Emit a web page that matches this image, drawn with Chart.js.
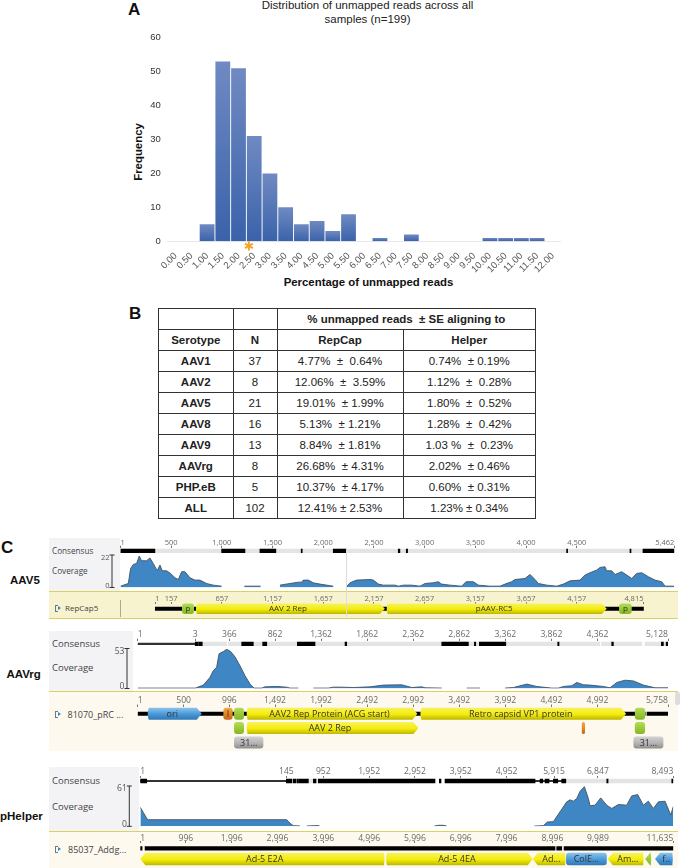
<!DOCTYPE html>
<html>
<head>
<meta charset="utf-8">
<title>Unmapped reads</title>
<script src="https://cdn.jsdelivr.net/npm/chart.js@4/dist/chart.umd.min.js"></script>
<style>
  html, body { margin: 0; padding: 0; background: #fff; }
  body { position: relative; width: 680px; height: 868px; overflow: hidden; font-family: "Liberation Sans", Arial, sans-serif; filter: blur(0.3px); }
  canvas { position: absolute; }
  .box { position: absolute; }
  .txt { position: absolute; transform: translateY(-50%); white-space: pre; line-height: 1; }
  .panel { font-weight: bold; font-size: 17px; color: #111; }
  .name { font-weight: bold; font-size: 11.5px; color: #111; }
  .axis { font-weight: bold; font-size: 11.4px; color: #111; }
  .head { font-size: 11.5px; color: #222; }
  .track { font-family: "Open Sans", sans-serif; color: #444; }
  table { position: absolute; left: 158px; top: 308px; width: 377px; height: 210px; border-collapse: collapse; table-layout: fixed; font-size: 11.5px; color: #222; }
  td { border: 1px solid #333; text-align: center; padding: 0; height: 20px; white-space: pre; }
  td.b { font-weight: bold; }
</style>
</head>
<body>
<script>
// --- DATA: panel A histogram ---
const binLabels = ['0.00','0.50','1.00','1.50','2.00','2.50','3.00','3.50','4.00','4.50','5.00','5.50','6.00','6.50','7.00','7.50','8.00','8.50','9.00','9.50','10.00','10.50','11.00','11.50','12.00'];
const binCounts = [0,0,5,53,51,31,20,10,5,6,3,8,0,1,0,2,0,0,0,0,1,1,1,1,0];
const medianBinIndex = 4.66;
const freqTicks = [0,10,20,30,40,50,60];

// --- DATA: panel B table ---
const serotypes = ['AAV1','AAV2','AAV5','AAV8','AAV9','AAVrg','PHP.eB','ALL'];
const sampleCounts = ['37','8','21','16','13','8','5','102'];
const repCapText = ['4.77%  ±  0.64%','12.06%  ±  3.59%','19.01%  ± 1.99%','5.13%  ± 1.21%','8.84%  ± 1.81%','26.68%  ± 4.31%','10.37%  ± 4.17%','12.41% ± 2.53%'];
const helperText = ['0.74%  ± 0.19%','1.12%  ±  0.28%','1.80%  ±  0.52%','1.28%  ±  0.42%','1.03 %  ±  0.23%','2.02%  ± 0.46%','0.60%  ± 0.31%','1.23% ± 0.34%'];

// --- DATA: panel C, AAV5 ---
const aav5TickPos = [1,500,1000,1500,2000,2500,3000,3500,4000,4500,5462];
const aav5TickLabels = ['1','500','1,000','1,500','2,000','2,500','3,000','3,500','4,000','4,500','5,462'];
const aav5Grey = [[1,2230],[2236,5462]];
const aav5Black = [[1,340],[998,1228],[1376,1533],[1783,1793],[2099,2230],[2740,2756],[2819,2832],[4400,4410],[5025,5035],[5153,5462]];
const aav5CovPos = [1,78,101,127,160,186,209,258,291,324,350,367,390,413,456,495,538,571,604,636,686,735,784,850,916,998,1000,1222,1383,1400,1573,1672,1754,1787,1803,1853,1902,1968,2099,2150,2231,2264,2330,2461,2494,2544,2593,2708,2741,2790,2872,2954,3004,3086,3135,3168,3250,3365,3408,3480,3530,3645,3743,3793,3858,3891,3990,4039,4089,4121,4204,4302,4368,4434,4532,4582,4631,4697,4730,4779,4795,4845,4878,4943,4993,5042,5091,5141,5206,5272,5338,5371,5462];
const aav5CovVal = [0.9,2.7,12.9,15.6,16.3,21.3,18.1,18.1,20,16.3,12.9,11.8,15.2,11.3,11.3,9.5,6.6,5.4,10.7,10.7,6.6,5,5,2.7,1.6,0.9,null,0.9,0.9,null,1.6,2.7,3.6,3.6,5,5,3.2,2.3,0.9,null,0.5,3.2,5,5.4,5,2.3,1.6,1.6,0.9,1.6,1.6,0.9,2.7,3.2,3.9,2.3,1.6,0.9,3.9,3.9,1.6,0.9,0.9,2.3,3.9,5.4,6.1,8.8,5.4,2.7,1.6,0.9,2.3,4.5,5,8.4,10,11.8,13.6,14,11.3,11.3,8.8,10.7,8.4,6.1,9.5,10,7.3,5,3.9,0.9,0.9];
const aav5AnnotTickPos = [1,157,657,1157,1657,2157,2657,3157,3657,4157,4815];
const aav5AnnotTickLabels = ['1','157','657','1,157','1,657','2,157','2,657','3,157','3,657','4,157','4,815'];
const aav5Backbone = [[1,4815]];
const aav5Features = [
  [264,383,0,'promoter','p',0],
  [392,2265,0,'cds','AAV 2 Rep',1],
  [2273,4453,0,'cds','pAAV-RC5',1],
  [4574,4699,0,'promoter','p',0]
];

// --- DATA: panel C, AAVrg ---
const rgTickPos = [1,626,996,1492,1992,2492,2992,3492,3992,4492,4992,5758];
const rgTickLabels = ['1','3','366','862','1,362','1,862','2,362','2,862','3,362','3,862','4,362','5,128'];
const rgGrey = [[626,967],[985,5017],[5036,5473],[5509,5758]];
const rgThin = [[1,626]];
const rgBlack = [[626,660],[668,702],[1130,1256],[1358,1402],[1734,1926],[2252,2270],[3302,3591],[3656,3671],[3710,3997],[4561,4575],[5147,5165],[5686,5708],[5738,5758]];
const rgCovPos = [1,627,714,786,822,858,884,931,967,1010,1057,1112,1166,1220,1264,1347,1383,1510,1618,1654,1745,1800,1908,2071,2125,2198,2343,2524,2668,2867,2976,3085,3121,3302,3400,3573,3718,3800,3989,4080,4225,4333,4496,4569,4623,4713,4768,4840,4912,5057,5129,5202,5292,5383,5491,5618,5758];
const rgCovVal = [0.5,0.5,4.5,14.8,23.8,28,46,49,52,49,42,30,17,6,0.5,0.5,2.2,2.7,1.8,0.5,0.5,null,0.5,0.5,1.8,1.8,1.3,2.2,4.5,4.9,1.3,2.2,0.9,0.5,null,0.5,0.5,null,0.5,1.3,5.8,2.7,0.5,0.5,2.7,3.6,8,4.9,4.5,2.7,0.9,8,11,10,4.5,0.9,0.9];
const rgAnnotTickPos = [1,500,996,1492,1992,2492,2992,3492,3992,4492,4992,5758];
const rgAnnotTickLabels = ['1','500','996','1,492','1,992','2,492','2,992','3,492','3,992','4,492','4,992','5,758'];
const rgBackbone = [[1,5510],[5530,5758]];
const rgFeatures = [
  [99,696,0,'ori','ori',1],
  [931,1032,0,'orange','I',0],
  [1047,1155,0,'promoter','',0],
  [1173,3037,0,'cds','AAV2 Rep Protein (ACG start)',1],
  [3059,5303,0,'cds','Retro capsid VP1 protein',1],
  [5398,5509,0,'promoter','',0],
  [1047,1155,1,'promoter','',0],
  [1173,3048,1,'cds','AAV 2 Rep',1],
  [4822,4857,1,'orange','',0],
  [5398,5509,1,'promoter','',0],
  [1047,1365,2,'grey','31...',0],
  [5382,5708,2,'grey','31...',0]
];

// --- DATA: panel C, pHelper ---
const helperTickPos = [1,3190,3996,4996,5996,6996,7996,9033,9989,11635];
const helperTickLabels = ['1','145','952','1,952','2,952','3,952','4,952','5,915','6,847','8,493'];
const helperGrey = [[3669,3887],[9288,11635]];
const helperThin = [[1,3188],[8617,9288]];
const helperBlack = [[1,141],[3188,3306],[3334,3400],[3421,3454],[3466,3669],[3778,3837],[3887,6434],[6528,6565],[6652,8617],[8727,8786],[8836,8923],[9017,9113],[9200,9288],[10183,10211],[11602,11635]];
const helperCovPos = [1,67,140,176,3196,3269,3342,3487,3550,3633,3815,3909,4000,6419,6507,6616,6689,7000,8602,8799,8886,9017,9163,9308,9381,9454,9527,9600,9694,9781,9818,9927,10051,10182,10291,10436,10618,10727,10858,10982,11091,11200,11309,11455,11579,11635];
const helperCovVal = [28.7,21,12,10,10,4.5,1,0.5,null,0.5,1,1,null,0.3,1.5,1.5,0.3,null,0.3,1,6.5,7,22,37,40,38,42,53,60,42,31,32,43,32,27,33,32,46,48,32,38,27,37,38,17,30];
const helperAnnotTickPos = [1,996,1996,2996,3996,4996,5996,6996,7996,8996,9989,11635];
const helperAnnotTickLabels = ['1','996','1,996','2,996','3,996','4,996','5,996','6,996','7,996','8,996','9,989','11,635'];
const helperBackbone = [[1,40],[105,9054],[9090,9200],[9250,11635]];
const helperFeatures = [
  [1,5343,1,'cds','Ad-5 E2A',-1],
  [5343,8567,1,'cds','Ad-5 4EA',1],
  [8567,9294,1,'cds','Ad...',-1],
  [9294,10183,1,'ori','ColE...',0],
  [10205,10997,1,'cds','Am...',-1],
  [11020,11165,1,'promoter','',-1],
  [11237,11636,1,'ori','f..',-1]
];

const TRACK_FONT = '"Open Sans", sans-serif';
const featureColors = {
  cds: ['#f7f264', '#f4ec08', '#bcb602'],
  ori: ['#8cc4ee', '#4a97d6', '#2f78b8'],
  promoter: ['#b4dc5e', '#98c834', '#86b52a'],
  orange: ['#f2ab3e', '#e08424', '#c9641a'],
  grey: ['#d2d2d2', '#b4b4b4', '#8e8e8e']
};

// helpers for placing plain elements
function addBox(left, top, width, height, css) {
  const d = document.createElement('div');
  d.className = 'box';
  d.style.cssText = `left:${left}px;top:${top}px;width:${width}px;height:${height}px;${css || ''}`;
  document.body.appendChild(d);
  return d;
}
function addText(text, left, cy, cls, css) {
  const s = document.createElement('span');
  s.className = 'txt ' + (cls || '');
  s.textContent = text;
  s.style.cssText = `left:${left}px;top:${cy}px;${css || ''}`;
  document.body.appendChild(s);
  return s;
}
function addCanvas(left, top, width, height) {
  const c = document.createElement('canvas');
  c.width = width;
  c.height = height;
  c.style.left = left + 'px';
  c.style.top = top + 'px';
  document.body.appendChild(c);
  return c;
}

// --- 1. HISTOGRAM ---
addText('A', 128, 9, 'panel');
const CENTER = 'transform:translate(-50%,-50%);';
addText('Distribution of unmapped reads across all', 367.5, 5.5, 'head', CENTER);
addText('samples (n=199)', 367.5, 19.5, 'head', CENTER);
addText('Percentage of unmapped reads', 368.5, 283, 'axis', CENTER);
addText('Frequency', 139, 152, 'axis', 'transform:translate(-50%,-50%) rotate(-90deg);');

const medianStar = {
  id: 'medianStar',
  afterDraw(chart) {
    const { ctx, scales } = chart;
    const cx = scales.x.getPixelForValue(medianBinIndex);
    const cy = scales.y.getPixelForValue(0) + 4.6;
    ctx.save();
    ctx.strokeStyle = '#f5a623';
    ctx.lineWidth = 2;
    for (let k = 0; k < 3; k++) {
      const a = Math.PI / 2 + k * Math.PI / 3;
      ctx.beginPath();
      ctx.moveTo(cx - 4.6 * Math.cos(a), cy - 4.6 * Math.sin(a));
      ctx.lineTo(cx + 4.6 * Math.cos(a), cy + 4.6 * Math.sin(a));
      ctx.stroke();
    }
    ctx.restore();
  }
};
new Chart(addCanvas(130, -1, 440, 300), {
  type: 'bar',
  data: {
    labels: binLabels,
    datasets: [{
      data: binCounts,
      barPercentage: 0.94,
      categoryPercentage: 1,
      backgroundColor: (c) => {
        const s = c.chart.scales.y;
        if (!s || !c.parsed) return '#4a6fb2';
        const topPx = s.getPixelForValue(c.parsed.y);
        const basePx = s.getPixelForValue(0);
        if (!Number.isFinite(topPx) || !Number.isFinite(basePx)) return '#4a6fb2';
        const g = c.chart.ctx.createLinearGradient(0, topPx, 0, basePx);
        g.addColorStop(0, '#708ac2');
        g.addColorStop(1, '#3a62aa');
        return g;
      }
    }]
  },
  options: {
    responsive: false,
    animation: false,
    layout: { autoPadding: false, padding: { right: 7.2, top: 38.7 } },
    plugins: { legend: { display: false }, tooltip: { enabled: false } },
    scales: {
      x: {
        afterFit: (s) => { s.height = 57.7; },
        grid: { display: false, drawTicks: false },
        border: { color: '#e8e8e8' },
        ticks: { color: '#555', maxRotation: 45, minRotation: 45, autoSkip: false, padding: 9, font: { family: '"Liberation Sans"', size: 9.5 } }
      },
      y: {
        min: 0,
        max: 60,
        afterBuildTicks: (s) => { s.ticks = freqTicks.map((v) => ({ value: v })); },
        afterFit: (s) => { s.width = 37.8; },
        grid: { display: false, drawTicks: false },
        border: { display: false },
        ticks: { color: '#333', padding: 7, font: { family: '"Liberation Sans"', size: 9.5 } }
      }
    }
  },
  plugins: [medianStar]
});

// --- 2. TABLE ---
addText('B', 129, 313, 'panel');
const tbl = document.createElement('table');
function addRow(cells) {
  const tr = tbl.insertRow();
  cells.forEach(([text, cls, span]) => {
    const td = tr.insertCell();
    td.textContent = text;
    if (cls) td.className = cls;
    if (span) td.colSpan = span;
  });
  return tr;
}
const colGroup = document.createElement('colgroup');
[74.5, 44, 126, 132.5].forEach((w) => {
  const col = document.createElement('col');
  col.style.width = w + 'px';
  colGroup.appendChild(col);
});
tbl.appendChild(colGroup);
addRow([['', ''], ['', ''], ['% unmapped reads  ± SE aligning to', 'b', 2]]);
addRow([['Serotype', 'b'], ['N', 'b'], ['RepCap', 'b'], ['Helper', 'b']]);
serotypes.forEach((s, i) => addRow([[s, 'b'], [sampleCounts[i]], [repCapText[i]], [helperText[i]]]));
document.body.appendChild(tbl);

// --- 3. GENOME TRACKS ---
const CANVAS_LEFT = 90;
const CANVAS_WIDTH = 590;

function topAxis(min, max, tickPos, tickLabels, axisH, tickLen, fontSize, labelPad) {
  return {
    type: 'linear',
    position: 'top',
    min,
    max,
    afterBuildTicks: (s) => { s.ticks = tickPos.map((v) => ({ value: v })); },
    afterFit: (s) => { s.height = axisH; },
    grid: { drawOnChartArea: false, drawTicks: true, tickLength: tickLen, color: '#777', lineWidth: 1 },
    border: { display: false },
    ticks: {
      autoSkip: false, maxRotation: 0, minRotation: 0, align: 'inner', padding: labelPad, color: '#6a6a6a',
      font: { family: TRACK_FONT, size: fontSize },
      callback: (v, i) => tickLabels[i]
    }
  };
}
function floatBars(ranges, rowName, color, thickness) {
  return {
    data: ranges.map((r) => ({ x: r, y: rowName })),
    backgroundColor: color,
    barThickness: thickness,
    grouped: false,
    borderWidth: 0
  };
}

function consensusChart(t) {
  const areaTop = t.consensusY - 3;
  const top = Math.floor(areaTop - t.axisH);
  new Chart(addCanvas(CANVAS_LEFT, top, CANVAS_WIDTH, Math.ceil(areaTop + 6 - top)), {
    type: 'bar',
    data: {
      labels: ['seq'],
      datasets: [
        floatBars(t.black, 'seq', '#000', 3.6),
        floatBars(t.thin || [], 'seq', '#333', 1.4),
        floatBars(t.grey, 'seq', '#e4e4e4', 3.6)
      ]
    },
    options: {
      indexAxis: 'y',
      responsive: false,
      animation: false,
      layout: { autoPadding: false, padding: { left: t.x0 - CANVAS_LEFT, right: CANVAS_LEFT + CANVAS_WIDTH - t.x1, top: areaTop - t.axisH - top, bottom: 0 } },
      plugins: { legend: { display: false }, tooltip: { enabled: false } },
      scales: {
        x: topAxis(t.min, t.max, t.tickPos, t.tickLabels, t.axisH, t.tickLen, t.tickFont, t.tickPad),
        y: { display: false }
      }
    }
  });
}

const covBracket = {
  id: 'covBracket',
  afterDraw(chart) {
    const { ctx, scales } = chart;
    const o = chart.options.plugins.covBracket;
    const yMax = scales.y.getPixelForValue(scales.y.max);
    const yMin = scales.y.getPixelForValue(0);
    const bx = o.x - CANVAS_LEFT;
    ctx.save();
    ctx.strokeStyle = '#333';
    ctx.lineWidth = 1;
    ctx.beginPath();
    ctx.moveTo(bx, yMax); ctx.lineTo(bx, yMin);
    ctx.moveTo(bx - 2.5, yMax); ctx.lineTo(bx + 2.5, yMax);
    ctx.moveTo(bx - 2.5, yMin); ctx.lineTo(bx + 2.5, yMin);
    ctx.stroke();
    ctx.fillStyle = '#555';
    ctx.font = o.font + 'px ' + TRACK_FONT;
    ctx.textAlign = 'right';
    ctx.textBaseline = 'middle';
    ctx.fillText(String(scales.y.max), bx - 2.5, yMax + 3);
    ctx.fillText('0', bx - 2.5, yMin - 2);
    ctx.restore();
  }
};

function coverageChart(t) {
  const top = Math.floor(t.covTop) - 4;
  const bottom = Math.ceil(t.covBottom) + 2;
  new Chart(addCanvas(CANVAS_LEFT, top, CANVAS_WIDTH, bottom - top), {
    type: 'line',
    data: {
      datasets: [{
        data: t.covPos.map((x, i) => ({ x, y: t.covVal[i] })),
        fill: 'origin',
        backgroundColor: '#3f87c4',
        borderColor: '#46525c',
        borderWidth: 0.9,
        pointRadius: 0,
        tension: 0,
        spanGaps: false
      }]
    },
    options: {
      responsive: false,
      animation: false,
      layout: { autoPadding: false, padding: { left: t.x0 - CANVAS_LEFT, right: CANVAS_LEFT + CANVAS_WIDTH - t.x1, top: t.covTop - top, bottom: bottom - t.covBottom } },
      plugins: { legend: { display: false }, tooltip: { enabled: false }, covBracket: { x: t.bracketX, font: t.tickFont } },
      scales: {
        x: { type: 'linear', display: false, min: t.min, max: t.max },
        y: { type: 'linear', display: false, min: 0, max: t.covMax }
      }
    },
    plugins: [covBracket]
  });
}

function drawFeature(ctx, sx, sy, f, h, fontSize) {
  const [start, end, row, kind, label, dir] = f;
  const x0 = sx.getPixelForValue(start);
  const x1 = sx.getPixelForValue(end);
  const cy = sy.getPixelForValue(row);
  const top = cy - h / 2;
  const bot = cy + h / 2;
  const colors = featureColors[kind];
  const grad = ctx.createLinearGradient(0, top, 0, bot);
  grad.addColorStop(0, colors[0]);
  grad.addColorStop(0.55, colors[1]);
  grad.addColorStop(1, colors[2]);
  const head = Math.min(5, x1 - x0);
  ctx.beginPath();
  if (dir === 0) {
    ctx.roundRect(x0, top, x1 - x0, h, Math.min(3, (x1 - x0) / 2));
  } else if (dir === 1) {
    ctx.moveTo(x0 + 2, top);
    ctx.lineTo(x1 - head, top);
    ctx.lineTo(x1, cy);
    ctx.lineTo(x1 - head, bot);
    ctx.lineTo(x0 + 2, bot);
    ctx.quadraticCurveTo(x0, cy, x0 + 2, top);
  } else {
    ctx.moveTo(x1 - 1, top);
    ctx.lineTo(x0 + head, top);
    ctx.lineTo(x0, cy);
    ctx.lineTo(x0 + head, bot);
    ctx.lineTo(x1 - 1, bot);
    ctx.quadraticCurveTo(x1, cy, x1 - 1, top);
  }
  ctx.closePath();
  ctx.fillStyle = grad;
  ctx.fill();
  if (label) {
    ctx.fillStyle = '#333';
    ctx.font = fontSize + 'px ' + TRACK_FONT;
    ctx.textAlign = 'center';
    ctx.textBaseline = 'middle';
    ctx.fillText(label, (x0 + x1) / 2 + dir * -2, cy + 0.5);
  }
}

const featurePainter = {
  id: 'featurePainter',
  afterDatasetsDraw(chart) {
    const o = chart.options.plugins.featurePainter;
    chart.ctx.save();
    o.features.forEach((f) => drawFeature(chart.ctx, chart.scales.x, chart.scales.y, f, o.height, o.fontSize));
    chart.ctx.restore();
  }
};

function annotChart(t) {
  const top = t.bandTop;
  const height = t.bandBottom - t.bandTop;
  const rows = ['r1', 'r2', 'r3'].slice(0, t.rows);
  new Chart(addCanvas(CANVAS_LEFT, top, CANVAS_WIDTH, height), {
    type: 'bar',
    data: { labels: rows, datasets: [floatBars(t.backbone, 'r1', '#000', 3.4)] },
    options: {
      indexAxis: 'y',
      responsive: false,
      animation: false,
      layout: {
        autoPadding: false,
        padding: { left: t.x0 - CANVAS_LEFT, right: CANVAS_LEFT + CANVAS_WIDTH - t.x1, top: 0, bottom: t.bandBottom - (t.bandTop + t.annotAxisH + t.rowH * t.rows) }
      },
      plugins: {
        legend: { display: false },
        tooltip: { enabled: false },
        featurePainter: { features: t.features, height: t.featH, fontSize: t.featFont }
      },
      scales: {
        x: topAxis(t.annotMin, t.annotMax, t.annotTickPos, t.annotTickLabels, t.annotAxisH, t.annotTickLen, t.tickFont, t.annotPad),
        y: { display: false }
      }
    },
    plugins: [featurePainter]
  });
}

function addTrack(t) {
  addBox(49, t.panelTop, t.panelRight - 49, t.bandTop - t.panelTop, 'background:#f3f3f6;');
  addBox(49, t.bandTop, 629, t.bandBottom - t.bandTop - (t.bandLine ? 1 : 0), `background:${t.bandColor};border-top:1px solid #d8d264;${t.bandLine ? 'border-bottom:1px solid #d8d264;' : ''}`);
  addText('Consensus', 52, t.consensusY, 'track', `font-size:${t.sideFont}px;`);
  addText('Coverage', 52, t.coverageLabelY, 'track', `font-size:${t.sideFont}px;`);
  addText(t.name, t.nameX, t.nameY, 'name');
  addText(t.seqName, t.seqNameX, t.seqNameY, 'track', `font-size:${t.seqFont}px;`);
  // small sequence icon next to the name
  addBox(54.5, t.seqNameY - 3, 2.5, 5, 'border:1px solid #6a7a8a;border-right:none;');
  addBox(58, t.seqNameY - 2.5, 0, 0, 'border-left:3.5px solid #2f8ad0;border-top:2.5px solid transparent;border-bottom:2.5px solid transparent;');
  consensusChart(t);
  coverageChart(t);
  annotChart(t);
}

addText('C', 1, 547, 'panel');

addTrack({
  name: 'AAV5', nameX: 10, nameY: 581, seqName: 'RepCap5', seqNameX: 65, seqNameY: 608, seqFont: 8, sideFont: 8.2,
  panelTop: 538, panelRight: 120, bandTop: 591, bandBottom: 618, bandColor: '#f8f3cf', bandLine: true,
  x0: 120.5, x1: 674.3, min: 1, max: 5462,
  tickPos: aav5TickPos, tickLabels: aav5TickLabels, axisH: 14, tickLen: 2, tickFont: 7.5, tickPad: -2,
  consensusY: 550.7, coverageLabelY: 571, grey: aav5Grey, black: aav5Black,
  covTop: 555, covBottom: 587.5, covMax: 22, bracketX: 112, covPos: aav5CovPos, covVal: aav5CovVal,
  annotMin: -342, annotMax: 5119, annotTickPos: aav5AnnotTickPos, annotTickLabels: aav5AnnotTickLabels,
  annotAxisH: 13, annotTickLen: 2, annotPad: -1, rows: 1, rowH: 9.4, featH: 10.6, featFont: 8, backbone: aav5Backbone, features: aav5Features
});

addTrack({
  name: 'AAVrg', nameX: 6.5, nameY: 675, seqName: '81070_pRC ...', seqNameX: 67.5, seqNameY: 714, seqFont: 9, sideFont: 9.5,
  panelTop: 631, panelRight: 133, bandTop: 691, bandBottom: 750, bandColor: '#fdf9ef', bandLine: false,
  x0: 137.7, x1: 668, min: 1, max: 5758,
  tickPos: rgTickPos, tickLabels: rgTickLabels, axisH: 14, tickLen: 2, tickFont: 8.6, tickPad: -1.5,
  consensusY: 643.7, coverageLabelY: 668, grey: rgGrey, thin: rgThin, black: rgBlack,
  covTop: 648.5, covBottom: 688.5, covMax: 53, bracketX: 127, covPos: rgCovPos, covVal: rgCovVal,
  annotMin: 1, annotMax: 5758, annotTickPos: rgAnnotTickPos, annotTickLabels: rgAnnotTickLabels,
  annotAxisH: 15.5, annotTickLen: 2, annotPad: -1, rows: 3, rowH: 14.4, featH: 12, featFont: 9, backbone: rgBackbone, features: rgFeatures
});

addTrack({
  name: 'pHelper', nameX: 0, nameY: 816.7, seqName: '85037_Addg...', seqNameX: 68, seqNameY: 849, seqFont: 9, sideFont: 9.5,
  panelTop: 767, panelRight: 139, bandTop: 831, bandBottom: 868, bandColor: '#fdf9ef', bandLine: false,
  x0: 140.3, x1: 673.3, min: 1, max: 11635,
  tickPos: helperTickPos, tickLabels: helperTickLabels, axisH: 14, tickLen: 2, tickFont: 8.6, tickPad: -1,
  consensusY: 781, coverageLabelY: 806.5, grey: helperGrey, thin: helperThin, black: helperBlack,
  covTop: 786, covBottom: 826.3, covMax: 61, bracketX: 129.3, covPos: helperCovPos, covVal: helperCovVal,
  annotMin: 1, annotMax: 11635, annotTickPos: helperAnnotTickPos, annotTickLabels: helperAnnotTickLabels,
  annotAxisH: 12, annotTickLen: 2, annotPad: -2.5, rows: 2, rowH: 10.7, featH: 12.6, featFont: 9, backbone: helperBackbone, features: helperFeatures
});

// faint alignment rulers and the scrollbar stub on the AAVrg viewer
addBox(120, 600, 1, 17, 'background:#a8a8a0;');
addBox(346, 548, 1, 69, 'background:#dcdcdc;');
addBox(675, 692, 5, 13, 'background:#dddddd;border-radius:2px;');
</script>
</body>
</html>
